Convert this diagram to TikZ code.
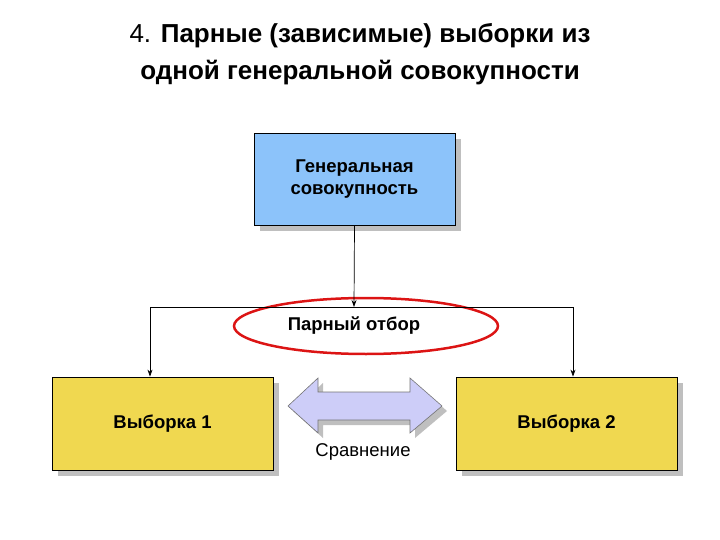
\documentclass[tikz,border=0pt]{standalone}
\usepackage{fontspec}
\setmainfont{Liberation Sans}
\usetikzlibrary{shapes.geometric,arrows.meta}
\begin{document}
\begin{tikzpicture}[x=1pt,y=-1pt,
 box/.style={draw=black,line width=0.8pt,minimum width=#1,font=\fontsize{18.5}{22}\selectfont\bfseries,align=center},
 shad/.style={fill=black!25,draw=none},
 arr/.style={-{Stealth[length=7pt,width=5pt]},line width=0.7pt}]
\useasboundingbox (0,0) rectangle (720,540);
\node[font=\fontsize{26}{37}\selectfont,align=center] (title) at (360,54) {4. \textbf{Парные (зависимые) выборки из}\\\textbf{одной генеральной совокупности}};
% shadows
\fill[shad] (260,139) rectangle (461,231);
\fill[shad] (58,383) rectangle (279,476);
\fill[shad] (462,383) rectangle (683,476);
\fill[shad] (293,411) -- (323,383) -- (323,397) -- (415,397) -- (415,383) -- (447,411) -- (415,438) -- (415,425) -- (323,425) -- (323,438) -- cycle;
\node[box=201pt,fill={rgb,255:red,140;green,195;blue,250},minimum height=92pt] (gen) at (354.5,179) {Генеральная\\совокупность};
\node[box=221pt,fill={rgb,255:red,240;green,216;blue,80},minimum height=93pt] (s1) at (162.5,423.5) {Выборка 1};
\node[box=221pt,fill={rgb,255:red,240;green,216;blue,80},minimum height=93pt] (s2) at (566.5,423.5) {Выборка 2};
\node[ellipse,draw={rgb,255:red,220;green,20;blue,20},line width=2.5pt,minimum width=264pt,minimum height=56pt] (ell) at (366,326) {};
\node[font=\fontsize{18.5}{22}\selectfont\bfseries] (pair) at (354,326) {Парный отбор};
\coordinate (j) at (354,307);
\coordinate (l) at (150,307);
\coordinate (r) at (573,307);
\draw[arr] (gen.south) -- (j);
\draw[line width=0.7pt] (l) -- (r);
\draw[arr] (l) -- (l |- s1.north);
\draw[arr] (r) -- (r |- s2.north);
\filldraw[draw=black!55,fill={rgb,255:red,205;green,205;blue,248},line width=0.6pt] (288,406) -- (318,378) -- (318,392) -- (410,392) -- (410,378) -- (442,406) -- (410,433) -- (410,420) -- (318,420) -- (318,433) -- cycle;
\node[font=\fontsize{18.5}{22}\selectfont] (cmpl) at (363,452) {Сравнение};
\end{tikzpicture}
\end{document}
